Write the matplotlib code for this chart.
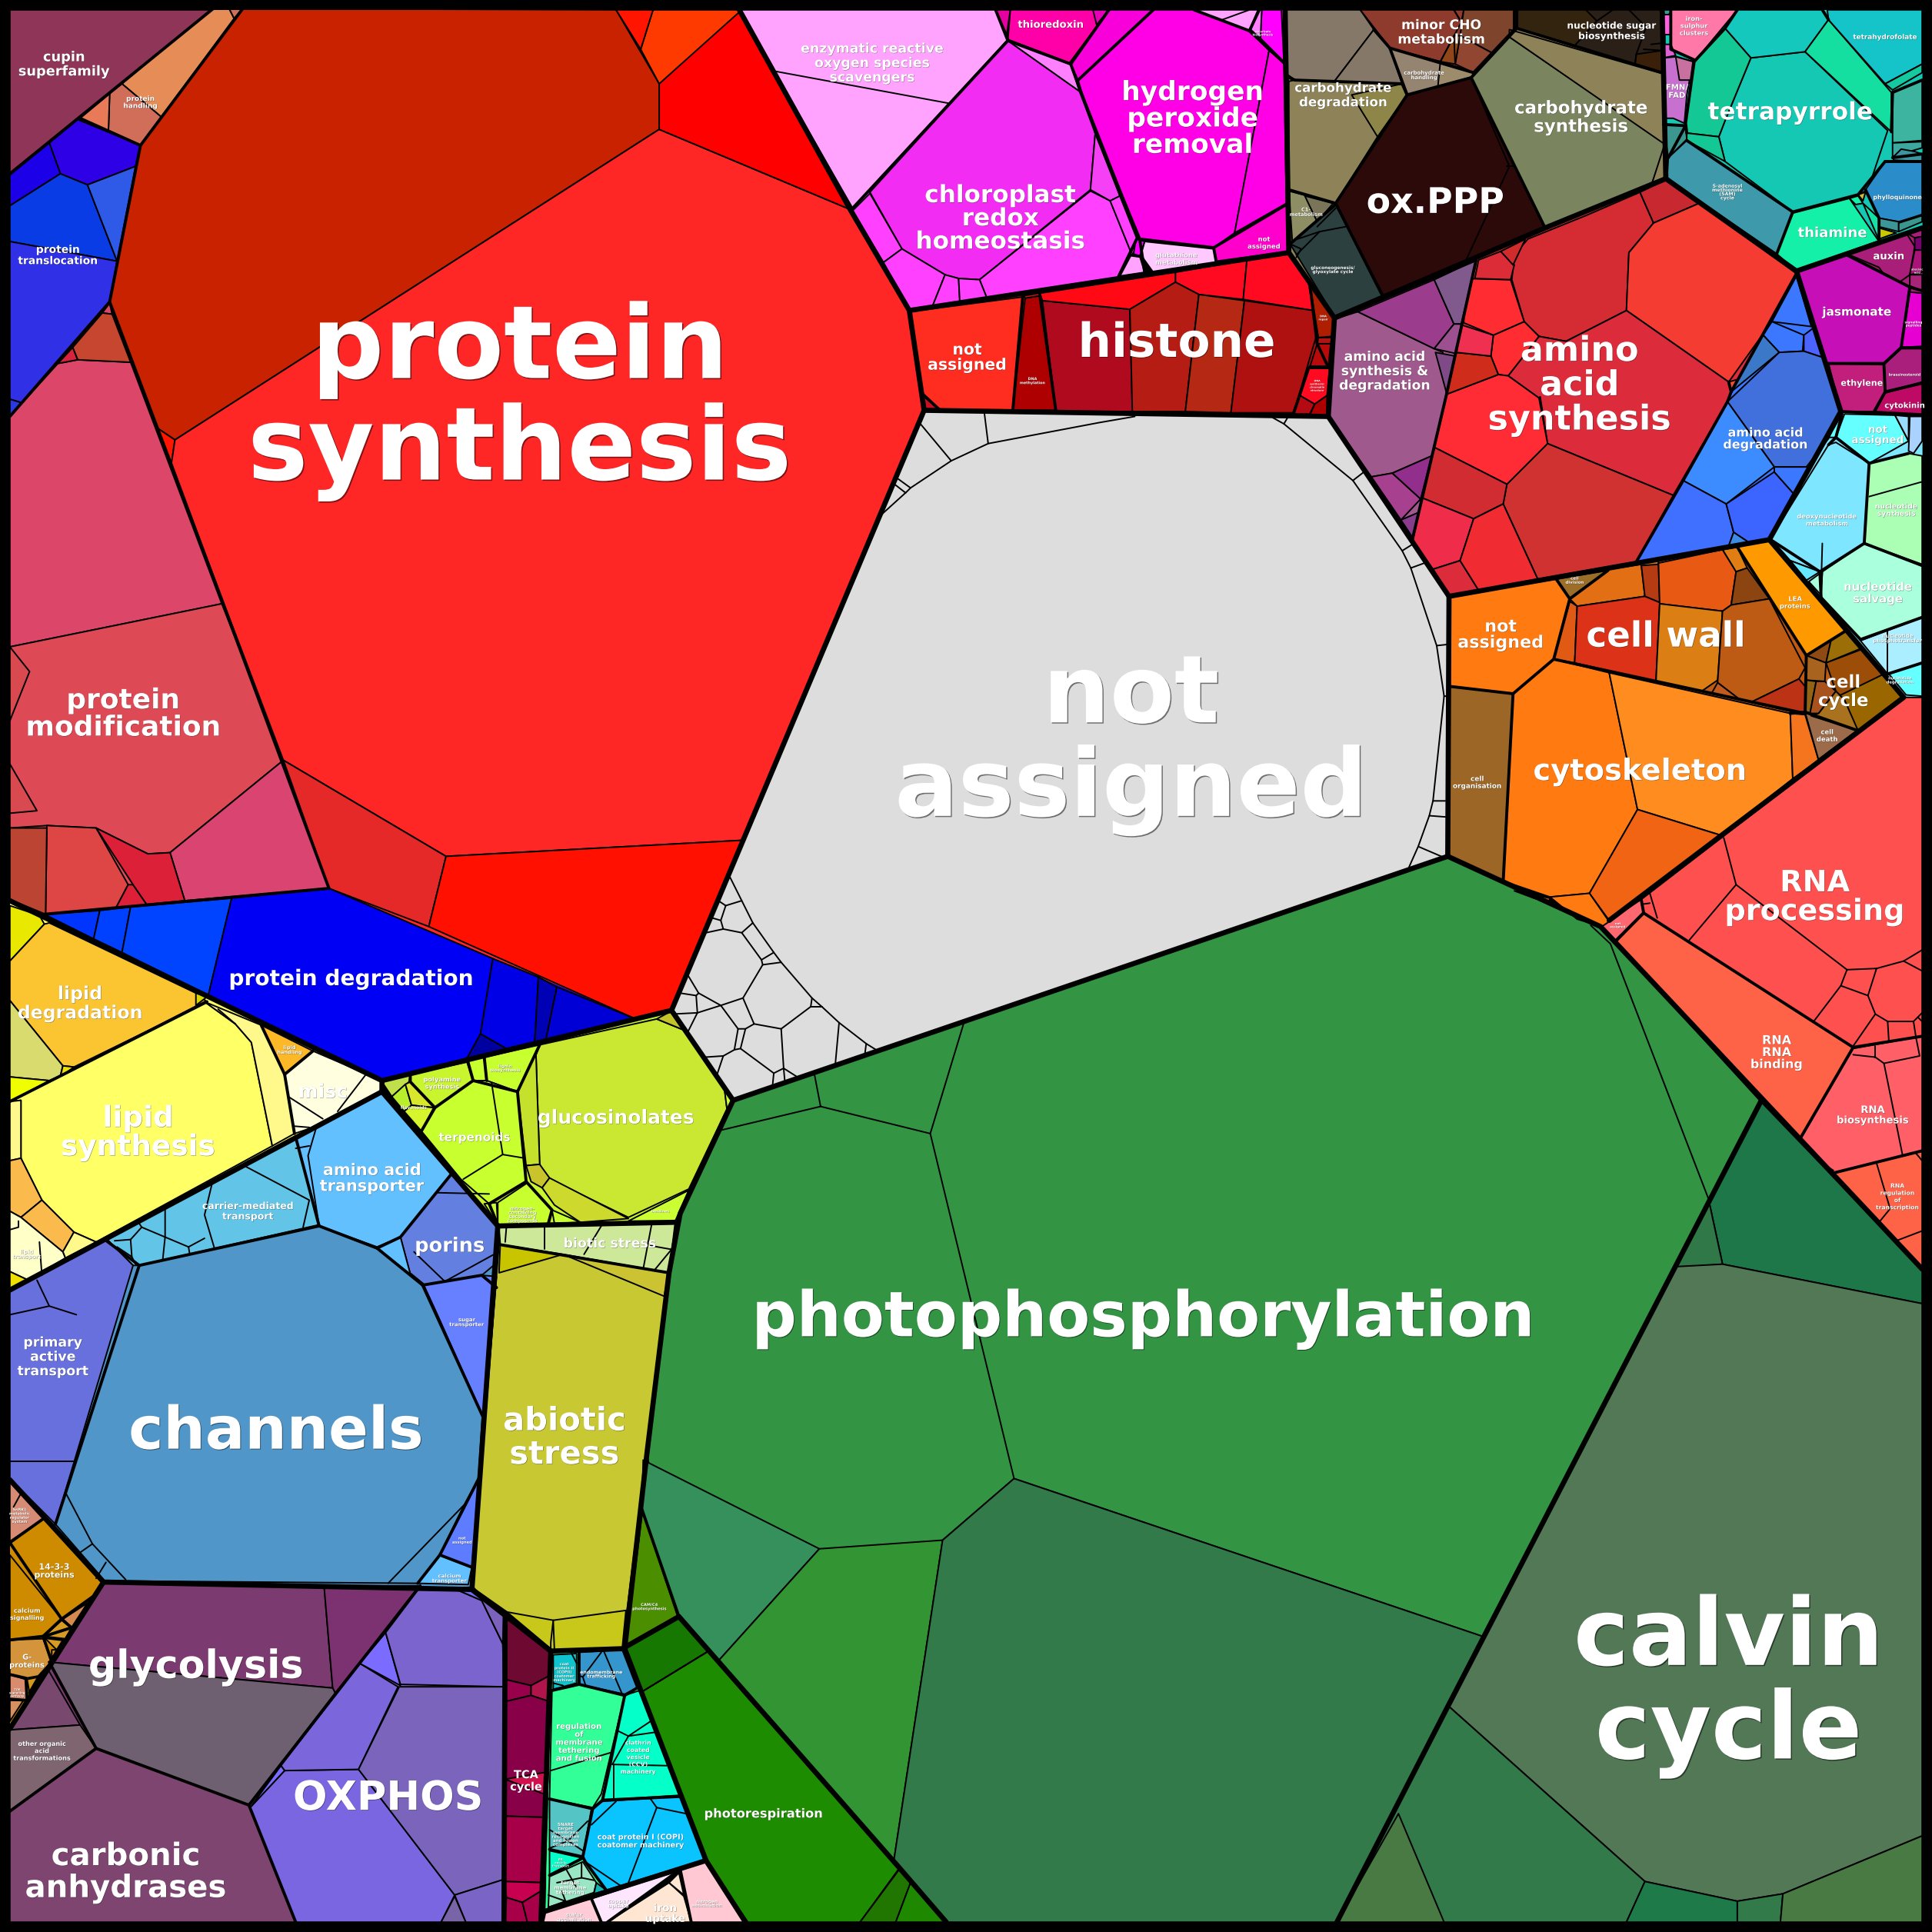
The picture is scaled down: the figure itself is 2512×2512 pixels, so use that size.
import matplotlib
matplotlib.use('Agg')
import matplotlib.pyplot as plt
import matplotlib.patheffects as pe

SIZE = 1568

# big patches under each group, so no gap shows between the cells
base_cells = [
    [(750,333),(1078,338),(1176,484),(1175,695),(595,893),(545,820)],
    [(197,7),(600,8),(690,170),(738,252),(750,333),(545,820),(516,827),(267,721),(89,245),(114,118)],
    [(8,338),(89,245),(267,721),(36,742),(8,731)],
    [(36,742),(267,721),(516,827),(310,877)],
    [(8,731),(310,877),(310,886),(8,1047)],
    [(310,877),(544,821),(595,893),(548,991),(404,995)],
    [(310,886),(404,995),(383,1290),(84,1284),(8,1201),(8,1047)],
    [(8,1201),(84,1284),(8,1403)],
    [(84,1284),(341,1287),(202,1465),(240,1560),(8,1560),(8,1403)],
    [(341,1287),(383,1290),(410,1309),(409,1560),(240,1560),(202,1465)],
    [(447,1340),(505,1338),(573,1510),(443,1551)],
    [(1198,211),(1352,145),(1458,221),(1328,456),(1176,484),(1146,439)],
    [(1458,222),(1494,334),(1436,438),(1328,456)],
    [(1083,259),(1198,211),(1146,439),(1078,338)],
    [(692,170),(818,33),(925,194),(907,226),(738,252)],
    [(875,65),(936,8),(1043,8),(1046,204),(987,212),(923,194)],
    [(738,252),(1046,205),(1083,258),(1078,338),(750,333)],
    [(1494,335),(1560,337),(1560,566),(1545,566),(1436,438)],
    [(1352,8),(1560,8),(1560,185),(1458,220),(1352,145)],
    [(1458,220),(1560,185),(1560,336),(1494,334)],
    [(1176,484),(1436,438),(1545,566),(1306,747),(1175,695)],
    [(1043,8),(1349,8),(1352,145),(1254,185),(1083,258),(1046,205)],
]
base_colors = [
    '#DDDDDD', '#FF2626', '#DD4A55', '#0000F5', '#FFFF66', '#C8F52E', '#5096C8', '#CE8B00', '#7C3B70',
    '#7A64BC', '#33FF99', '#DC2C3C', '#3C78FF', '#A0598C', '#FF40FF', '#FF00E6', '#AF1010', '#7FE6FF',
    '#14C8B4', '#A81E78', '#BD5A14', '#8E8258',
]

# protein
protein_cells = [
    [(8,8),(173,8),(8,141)],
    [(172,7),(186,7),(190,15),(131,95),(99,68)],
    [(99,68),(131,95),(114,118),(88,106),(89,76)],
    [(89,76),(88,106),(65,96)],
    [(186,7),(197,7),(190,15)],
    [(40,116),(63,97),(114,118),(110,135),(71,150),(49,141)],
    [(8,142),(40,116),(49,141),(8,167)],
    [(8,167),(49,141),(71,150),(95,212),(8,196)],
    [(71,150),(110,135),(95,212)],
    [(8,196),(95,212),(89,245),(18,327),(8,324)],
    [(8,324),(18,327),(8,338)],
    [(8,338),(47,295),(63,292),(106,294),(180,490),(8,525)],
    [(83,254),(89,246),(91,255)],
    [(83,254),(91,255),(106,294),(63,292),(59,282)],
    [(59,282),(63,292),(47,295)],
    [(8,525),(180,490),(230,617),(138,692),(120,693),(78,672),(38,670),(8,672)],
    [(8,525),(24,545),(8,585)],
    [(8,620),(30,658),(8,660)],
    [(230,617),(267,721),(150,731),(138,692)],
    [(38,670),(78,672),(104,718),(94,737),(37,742)],
    [(104,718),(108,718),(119,734),(94,737)],
    [(120,693),(138,692),(150,731),(119,734),(108,718),(78,672)],
    [(8,672),(38,672),(37,742),(8,730)],
    [(197,7),(500,8),(535,68),(535,105),(142,357),(127,347),(89,245),(114,118)],
    [(127,347),(142,357),(139,377)],
    [(142,357),(535,105),(690,170),(738,252),(750,333),(602,682),(362,695),(230,617),(139,377)],
    [(535,68),(600,8),(690,170),(535,105)],
    [(530,8),(602,8),(535,68),(520,40)],
    [(500,8),(530,8),(520,40)],
    [(230,617),(362,695),(348,752),(267,721)],
    [(362,695),(602,682),(545,820),(516,827),(348,752)],
    [(36,742),(81,739),(76,762)],
    [(81,739),(106,736),(99,773),(76,762)],
    [(106,736),(188,729),(169,808),(99,773)],
    [(188,729),(267,721),(400,778),(390,839),(379,859),(310,877),(169,808)],
    [(390,839),(411,851),(379,859)],
    [(400,778),(437,793),(434,846),(411,851),(390,839)],
    [(437,793),(452,801),(443,844),(434,846)],
    [(452,801),(516,827),(443,844)],
]
protein_colors = [
    '#8F3558', '#E68C57', '#D06E5A', '#E87A58', '#D06E5A', '#2E00E6', '#1C00E8', '#0A3CE6', '#2F5AE8',
    '#3030E6', '#2A3AE0', '#DC4668', '#DC4668', '#C7462F', '#D8243C', '#DD4A55', '#D84A50', '#D84A50',
    '#DA4470', '#DE4545', '#DC2038', '#DC2038', '#BB4433', '#C82200', '#FF1500', '#FF2626', '#FF0000',
    '#FF3A00', '#FF1500', '#E52828', '#FF1000', '#0035FF', '#0040FF', '#0044FF', '#0000F5', '#0000A0',
    '#0000E6', '#0000B5', '#0000D6',
]

# lipid, misc
lipid_cells = [
    [(8,735),(32,743),(36,750),(8,780)],
    [(36,750),(40,749),(159,806),(168,813),(60,866),(51,865),(8,812),(8,780)],
    [(8,812),(51,865),(49,873),(40,877),(8,874)],
    [(8,874),(40,877),(8,894)],
    [(51,865),(60,866),(49,874)],
    [(159,806),(168,809),(159,816)],
    [(166,813),(191,831),(204,846),(221,930),(78,1008),(60,1000),(34,974),(17,940),(17,893),(8,894)],
    [(166,813),(212,832),(231,872),(239,920),(221,930),(204,846),(191,831)],
    [(8,894),(17,893),(17,940),(8,942)],
    [(8,942),(17,940),(34,974),(17,988),(8,983)],
    [(17,988),(34,974),(60,1000),(51,1016)],
    [(60,1000),(78,1008),(53,1021),(51,1016)],
    [(8,983),(17,988),(51,1016),(53,1021),(23,1039),(8,1032)],
    [(8,1032),(23,1039),(8,1047)],
    [(212,832),(254,853),(231,872)],
    [(254,853),(310,877),(310,886),(257,914),(239,920),(231,872)],
]
lipid_colors = [
    '#E8E800', '#FBC531', '#DADB6F', '#F0FF00', '#EEE000', '#D8D800', '#FFFF66', '#FFF88A', '#FFF88A',
    '#FBBB4C', '#FBBB4C', '#FFF88A', '#FFFFC8', '#F0E000', '#FDB827', '#FFFFE0',
]

# secondary metabolism, stress
secondary_cells = [
    [(438,848),(533,827),(555,836),(588,884),(590,900),(559,965),(510,988),(444,956),(438,945),(435,856)],
    [(533,827),(544,821),(555,836)],
    [(420,886),(438,848),(435,856),(438,945),(427,946)],
    [(427,946),(438,945),(446,956),(440,964),(431,959)],
    [(440,964),(446,956),(510,989),(471,992),(450,978)],
    [(510,991),(559,966),(548,991)],
    [(588,884),(595,893),(590,900)],
    [(310,878),(333,872),(332,878),(318,890)],
    [(333,872),(379,862),(384,877),(353,899),(333,878)],
    [(379,859),(393,858),(395,877),(384,877)],
    [(393,858),(438,848),(420,886),(395,877)],
    [(318,890),(329,880),(334,897),(328,902)],
    [(329,880),(333,878),(353,899),(334,897)],
    [(328,902),(334,897),(352,899),(342,918)],
    [(384,877),(395,877),(420,886),(427,959),(397,977),(374,957),(342,918),(353,899)],
    [(393,977),(403,976),(404,994)],
    [(404,976),(428,960),(448,982),(445,993),(404,994)],
    [(448,982),(471,992),(450,993)],
    [(405,996),(548,992),(543,1033),(406,1010)],
    [(405,1010),(383,1290),(410,1308),(447,1340),(505,1338),(543,1033)],
    [(406,1010),(457,1018),(405,1033)],
    [(457,1018),(543,1033),(539,1052)],
    [(449,1315),(508,1307),(505,1338),(450,1340)],
    [(410,1308),(449,1315),(447,1333),(447,1340)],
]
secondary_colors = [
    '#CAE731', '#C4C32A', '#C5E12B', '#C9C42C', '#CDD92C', '#CCFF33', '#CCFF33', '#BFE04A', '#C8F52E',
    '#C8FF2E', '#C8FF2E', '#B9EE2C', '#D8E62C', '#D7F52C', '#C8FF2E', '#C8FF2E', '#C8FF2E', '#C8FF2E',
    '#CDE898', '#C7C832', '#C8C400', '#CCC332', '#C7C81A', '#C7C81A',
]

# transporters, signalling
transport_cells = [
    [(45,1237),(113,1027),(259,995),(306,1013),(343,1043),(355,1067),(392,1150),(389,1199),(377,1221),(357,1262),(339,1285),(85,1283)],
    [(389,1199),(383,1272),(357,1262),(377,1221)],
    [(357,1262),(383,1272),(380,1286),(339,1285)],
    [(240,923),(309,886),(367,952),(325,1004),(306,1012),(259,995)],
    [(367,952),(404,995),(403,1025),(391,1035),(344,1043),(333,1034),(325,1004)],
    [(306,1013),(325,1004),(333,1034),(344,1043)],
    [(344,1043),(391,1035),(403,1036),(394,1145),(392,1150),(355,1067)],
    [(240,923),(259,994),(113,1027),(108,1027),(87,1006)],
    [(8,1047),(87,1006),(108,1027),(45,1237),(8,1200)],
    [(8,1201),(36,1232),(8,1251)],
    [(36,1232),(84,1284),(75,1296),(50,1314),(8,1252)],
    [(8,1262),(50,1314),(35,1328),(8,1331)],
    [(51,1314),(71,1301),(58,1321)],
    [(50,1315),(58,1321),(53,1330),(36,1328)],
    [(36,1329),(51,1331),(46,1339)],
    [(8,1331),(35,1330),(42,1349),(32,1360),(21,1362),(8,1359)],
    [(42,1339),(46,1339),(42,1346)],
    [(8,1359),(21,1363),(22,1380),(8,1379)],
    [(22,1363),(32,1361),(24,1374)],
    [(8,1380),(19,1380),(8,1397)],
]
transport_colors = [
    '#5096C8', '#5E7CFF', '#62C0FF', '#62C0FF', '#6380E0', '#62C0FF', '#6680FF', '#62C4E6', '#6770DC',
    '#D68B74', '#CE8B00', '#CE8B00', '#D58B50', '#D89B22', '#D89B22', '#D4943C', '#E08B20', '#D98B6E',
    '#D2991E', '#D99060',
]

# glycolysis, oxphos, TCA
energy_cells = [
    [(84,1285),(263,1287),(270,1370),(40,1349)],
    [(263,1287),(341,1287),(272,1374),(270,1370)],
    [(40,1349),(270,1370),(272,1374),(202,1465),(78,1419)],
    [(39,1355),(65,1400),(8,1404)],
    [(8,1404),(65,1400),(78,1419),(8,1470)],
    [(8,1470),(78,1419),(202,1465),(240,1560),(8,1560)],
    [(231,1437),(291,1436),(369,1538),(358,1560),(240,1560),(203,1467)],
    [(228,1433),(292,1350),(323,1369),(291,1436),(231,1437)],
    [(292,1350),(313,1325),(325,1368)],
    [(313,1325),(341,1288),(368,1289),(391,1299),(408,1334),(409,1369),(325,1367)],
    [(368,1289),(384,1288),(393,1298),(391,1299)],
    [(391,1299),(393,1298),(409,1310),(408,1334)],
    [(324,1369),(409,1369),(410,1525),(369,1538),(291,1436)],
    [(369,1538),(410,1525),(410,1560),(378,1560)],
    [(369,1539),(378,1560),(358,1560)],
    [(228,1433),(231,1437),(203,1467)],
    [(409,1310),(446,1341),(446,1360),(431,1368),(410,1363)],
    [(410,1363),(431,1368),(431,1376),(410,1381)],
    [(431,1368),(446,1360),(446,1381),(431,1376)],
    [(410,1381),(431,1376),(446,1381),(444,1475),(410,1474)],
    [(410,1444),(445,1438),(444,1457)],
    [(410,1474),(444,1475),(442,1528),(410,1527)],
    [(410,1527),(442,1528),(442,1533),(424,1544),(411,1540)],
    [(411,1540),(424,1544),(428,1560),(410,1560)],
    [(424,1544),(442,1533),(439,1560),(428,1560)],
]
energy_colors = [
    '#7C3B70', '#7C3270', '#6E6070', '#78486E', '#7E6570', '#7D4570', '#7B66E2', '#7B66DC', '#7B6BFF',
    '#7C64CF', '#6F6BF0', '#7A62BD', '#7A64BC', '#7A64C5', '#7A64A8', '#7B6BFF', '#6E0A32', '#98004C',
    '#B0144A', '#880048', '#D0104F', '#A80048', '#C80050', '#A80048', '#A80048',
]

# vesicle trafficking, nutrient uptake
vesicle_cells = [
    [(470,1341),(505,1339),(517,1370),(507,1375),(470,1367)],
    [(449,1343),(468,1342),(468,1366),(449,1371)],
    [(448,1372),(470,1367),(507,1376),(488,1456),(481,1467),(446,1460)],
    [(507,1376),(519,1372),(552,1457),(489,1461)],
    [(481,1468),(489,1462),(552,1458),(573,1509),(492,1534),(475,1511),(473,1507)],
    [(446,1460),(480,1468),(473,1507),(446,1501)],
    [(446,1502),(473,1508),(446,1522)],
    [(446,1523),(473,1511),(484,1528),(482,1536),(445,1548)],
    [(484,1528),(492,1534),(482,1537)],
    [(443,1551),(480,1541),(488,1560),(441,1560)],
    [(480,1541),(551,1518),(493,1560),(488,1560)],
    [(493,1560),(543,1528),(555,1539),(561,1560)],
    [(543,1528),(551,1520),(555,1538)],
    [(552,1517),(573,1511),(605,1560),(561,1560)],
]
vesicle_colors = [
    '#3496CC', '#0FC4CC', '#33FF99', '#05FFC8', '#0AC4FF', '#55C4C4', '#05FFC8', '#99E6C4', '#10B4B4',
    '#FFCBD6', '#FFE6FF', '#FFE6D2', '#FFE6D2', '#FFC8D2',
]

# photosynthesis
photo_cells = [
    [(595,893),(1175,695),(1299,752),(1429,894),(1203,1328),(823,1200),(765,1250),(725,1513),(575,1340),(551,1312),(525,1180),(543,1033),(552,985)],
    [(522,1185),(665,1257),(583,1348),(575,1340),(551,1312),(521,1225)],
    [(665,1257),(765,1250),(725,1513),(583,1348)],
    [(823,1200),(1203,1328),(1085,1560),(768,1560),(725,1513),(765,1250)],
    [(521,1373),(575,1340),(730,1516),(698,1560),(607,1560),(573,1510)],
    [(507,1337),(551,1313),(575,1340),(521,1373)],
    [(521,1225),(550,1312),(507,1336)],
    [(730,1517),(739,1528),(727,1560),(698,1560)],
    [(739,1528),(768,1560),(727,1560)],
    [(1429,894),(1560,1030),(1560,1058),(1398,1026),(1387,975)],
    [(1387,975),(1398,1026),(1360,1029)],
    [(1360,1028),(1398,1026),(1560,1058),(1560,1490),(1447,1537),(1410,1543),(1335,1527),(1176,1385)],
    [(1176,1385),(1335,1527),(1320,1560),(1085,1560)],
    [(1135,1472),(1172,1560),(1085,1560)],
    [(1335,1527),(1410,1543),(1410,1560),(1320,1560)],
    [(1410,1543),(1447,1537),(1445,1560),(1410,1560)],
    [(1447,1537),(1560,1490),(1560,1560),(1445,1560)],
]
photo_colors = [
    '#339544', '#35905C', '#339433', '#337A4A', '#1E8C00', '#167800', '#4B8F00', '#207600', '#1E8800',
    '#1D7748', '#317848', '#527856', '#337A4A', '#4A7A44', '#1F7A4A', '#337A4A', '#4A7A44',
]

# RNA
rna_cells = [
    [(1299,752),(1332,730),(1334,740),(1310,764)],
    [(1334,741),(1504,850),(1461,924),(1311,765)],
    [(1332,730),(1545,566),(1560,566),(1560,841),(1504,850),(1334,741)],
    [(1504,851),(1560,841),(1560,934),(1488,952),(1461,925)],
    [(1488,952),(1560,934),(1560,1030)],
]
rna_colors = ['#FF6870', '#FF6347', '#FF5050', '#FF6068', '#FF6347']

# cell wall, cytoskeleton, cell cycle
cell_cells = [
    [(1176,484),(1263,470),(1274,486),(1261,535),(1228,563),(1176,557)],
    [(1263,470),(1305,463),(1274,486)],
    [(1176,557),(1228,563),(1220,715),(1174,695)],
    [(1228,563),(1261,535),(1306,546),(1329,657),(1290,725),(1258,728),(1220,715)],
    [(1306,546),(1453,579),(1455,632),(1397,678),(1329,657)],
    [(1329,657),(1397,678),(1306,747),(1290,725)],
    [(1258,728),(1290,725),(1306,748),(1300,752),(1280,746)],
    [(1229,723),(1258,729),(1257,732),(1245,729)],
    [(1453,579),(1465,580),(1476,617),(1455,632)],
    [(1465,578),(1508,593),(1476,617)],
    [(1306,462),(1332,458),(1335,484),(1280,492),(1274,486)],
    [(1332,458),(1346,457),(1347,489),(1335,484)],
    [(1330,456),(1346,455),(1346,458),(1332,459)],
    [(1346,457),(1398,446),(1409,464),(1405,491),(1398,496),(1347,490)],
    [(1398,446),(1410,444),(1418,461),(1409,464)],
    [(1409,464),(1418,461),(1436,486),(1405,491)],
    [(1274,488),(1280,492),(1278,538),(1261,535)],
    [(1280,492),(1335,484),(1347,489),(1344,553),(1278,538)],
    [(1347,490),(1398,496),(1394,552),(1381,561),(1344,553)],
    [(1398,496),(1405,491),(1436,486),(1465,542),(1460,551),(1421,570),(1411,567),(1394,554)],
    [(1394,554),(1411,567),(1389,563)],
    [(1421,570),(1460,551),(1465,557),(1465,580)],
    [(1410,444),(1436,438),(1498,512),(1466,532)],
    [(1466,532),(1486,520),(1482,538)],
    [(1498,512),(1511,526),(1482,538),(1486,520)],
    [(1482,538),(1511,527),(1529,547),(1497,568),(1490,561)],
    [(1529,547),(1545,566),(1508,593),(1492,565)],
    [(1466,532),(1482,538),(1481,553),(1466,552)],
    [(1466,552),(1474,553),(1469,579),(1465,577)],
    [(1474,553),(1481,553),(1490,561),(1476,579),(1469,579)],
    [(1476,579),(1490,561),(1497,568),(1508,593),(1470,581)],
]
cell_colors = [
    '#FF7A10', '#9C6E28', '#9C6726', '#FF7A10', '#FF8C1E', '#F06414', '#FF7A10', '#F06414', '#F5741E',
    '#9C6B4A', '#E36F14', '#B53C12', '#C87A10', '#E85A14', '#E07E14', '#8C4410', '#E05A14', '#DC3218',
    '#DB7E14', '#BD5A14', '#C05A1E', '#BC3214', '#FF9900', '#8F4A14', '#9C6E08', '#9C4E08', '#996600',
    '#A8641E', '#8F6414', '#A8521E', '#A8721E',
]

# nucleotide
nucleotide_cells = [
    [(1497,336),(1538,337),(1549,358),(1517,376),(1490,355)],
    [(1484,361),(1490,359),(1517,376),(1513,441),(1477,464),(1453,455),(1437,437)],
    [(1517,376),(1549,368),(1560,370),(1560,458),(1513,441)],
    [(1513,441),(1560,459),(1560,501),(1510,519),(1478,485),(1479,464)],
    [(1510,520),(1560,501),(1560,538),(1532,547)],
    [(1533,547),(1560,538),(1560,565),(1547,564)],
    [(1538,337),(1549,338),(1549,358)],
    [(1550,338),(1560,338),(1560,358),(1553,368),(1549,366)],
    [(1495,336),(1490,355),(1484,355)],
    [(1453,455),(1477,464),(1466,471)],
    [(1468,472),(1479,464),(1478,483)],
]
nucleotide_colors = [
    '#66FFFF', '#7FE6FF', '#AAFFB4', '#AAFFDC', '#AAEEFF', '#66FFFF', '#99DDFF', '#AAD2FF', '#66FFFF',
    '#66E6FF', '#AAFFDC',
]

# amino acids
amino_cells = [
    [(1458,224),(1470,265),(1438,261)],
    [(1438,261),(1464,272),(1463,285),(1444,286),(1431,272)],
    [(1464,272),(1472,266),(1479,290),(1464,285)],
    [(1444,286),(1431,272),(1405,318)],
    [(1402,326),(1444,286),(1464,285),(1479,290),(1494,334),(1484,356),(1466,379),(1440,379)],
    [(1402,326),(1440,379),(1401,409),(1366,390)],
    [(1366,390),(1401,409),(1407,432),(1403,443),(1328,456)],
    [(1401,409),(1440,383),(1456,401),(1437,438),(1419,440),(1407,432)],
    [(1440,379),(1469,379),(1456,401),(1440,383)],
    [(1407,432),(1419,440),(1403,443)],
    [(1287,175),(1331,156),(1342,181),(1322,205),(1320,252),(1271,277),(1249,273),(1237,261),(1227,227),(1229,207),(1240,194)],
    [(1331,156),(1352,146),(1379,165),(1342,181)],
    [(1379,165),(1458,222),(1438,261),(1403,310),(1320,252),(1322,205),(1342,181)],
    [(1320,252),(1403,310),(1405,318),(1402,326),(1358,402),(1256,360),(1250,322),(1249,323),(1224,305),(1249,273),(1271,277)],
    [(1256,360),(1358,402),(1328,456),(1248,470),(1220,409),(1223,393)],
    [(1249,273),(1224,305),(1216,304),(1210,289),(1212,272),(1237,261)],
    [(1216,304),(1224,305),(1249,323),(1256,360),(1223,393),(1164,363),(1174,320)],
    [(1174,320),(1216,304),(1210,289),(1182,286)],
    [(1184,263),(1212,272),(1210,289),(1182,286)],
    [(1189,226),(1226,227),(1237,261),(1212,272),(1188,262)],
    [(1200,211),(1218,204),(1229,215),(1226,227),(1197,226)],
    [(1218,204),(1238,194),(1228,215)],
    [(1164,363),(1223,393),(1220,409),(1196,421),(1154,404)],
    [(1154,404),(1196,421),(1185,455),(1163,462),(1146,439)],
    [(1163,462),(1185,455),(1200,479),(1176,483)],
    [(1196,421),(1220,409),(1248,470),(1200,479),(1185,455)],
    [(1403,310),(1410,308),(1405,318)],
    [(1083,259),(1102,253),(1164,283),(1171,286),(1174,319),(1162,370),(1130,384),(1113,387),(1079,338)],
    [(1102,253),(1164,227),(1180,263),(1164,283)],
    [(1164,227),(1198,211),(1186,263),(1180,263)],
    [(1180,263),(1186,263),(1182,287),(1164,283)],
    [(1165,286),(1181,289),(1174,319)],
    [(1113,387),(1130,384),(1153,405),(1137,422)],
    [(1130,384),(1162,370),(1153,405)],
    [(1137,422),(1151,416),(1147,437)],
]
amino_colors = [
    '#3C78FF', '#3C78FF', '#4B64FF', '#3C78C8', '#4170DC', '#3C8CFF', '#4070FF', '#3C64FF', '#3C78FF',
    '#3C8CE6', '#D42C32', '#C82830', '#F53C32', '#DC2C3C', '#D03232', '#FF2C32', '#FF2C35', '#D02C1C',
    '#F03050', '#FF2C32', '#DC2C38', '#D02C2C', '#D02C32', '#F02C4B', '#DC2C3C', '#F02C32', '#F05032',
    '#A0598C', '#9C3C8C', '#805A8C', '#9C5090', '#7E4A88', '#A84090', '#922E8C', '#873C8C',
]

# carbohydrates
cho_cells = [
    [(1044,8),(1104,8),(1115,24),(1083,66),(1051,65),(1044,60)],
    [(1115,24),(1128,39),(1138,68),(1083,66)],
    [(1044,60),(1051,65),(1046,67)],
    [(1046,66),(1051,65),(1138,68),(1142,77),(1118,111),(1084,165),(1046,154)],
    [(1097,77),(1138,68),(1142,77),(1118,111)],
    [(1104,8),(1229,8),(1229,24),(1196,59),(1169,50),(1128,39)],
    [(1180,8),(1188,8),(1186,18)],
    [(1188,8),(1229,8),(1229,24),(1211,43),(1185,29)],
    [(1185,29),(1211,43),(1196,59),(1181,52)],
    [(1180,29),(1185,29),(1181,52),(1169,50)],
    [(1128,39),(1169,50),(1196,59),(1194,63),(1142,77),(1138,68)],
    [(1169,50),(1196,59),(1194,63),(1167,70)],
    [(1225,30),(1352,117),(1341,148),(1254,185),(1194,63)],
    [(1225,24),(1350,60),(1351,117),(1225,30)],
    [(1351,117),(1352,144),(1341,148)],
    [(1231,8),(1349,8),(1349,59),(1231,23)],
    [(1328,44),(1349,41),(1349,59),(1327,52)],
    [(1231,8),(1287,8),(1296,17),(1278,37),(1231,23)],
    [(1142,77),(1194,63),(1254,185),(1122,240),(1084,165)],
    [(1046,155),(1084,165),(1049,198)],
    [(1059,159),(1082,165),(1069,180)],
    [(1084,166),(1123,240),(1083,257),(1047,198)],
]
cho_colors = [
    '#857868', '#857868', '#8E8255', '#8E8258', '#8E8648', '#8E3A2C', '#8E3A2C', '#7E442C', '#904630',
    '#904618', '#948470', '#9C8C6C', '#7A845E', '#8E8258', '#8E8258', '#2A2018', '#3A2008', '#33240F',
    '#2C0A0A', '#8E8E64', '#7A7458', '#2C4040',
]

# redox
redox_cells = [
    [(600,8),(808,8),(818,32),(692,169)],
    [(818,33),(876,74),(889,107),(885,154),(795,227),(778,226),(767,223),(732,202),(706,156)],
    [(808,8),(820,8),(817,28)],
    [(820,8),(900,8),(868,51),(818,32)],
    [(887,8),(900,8),(890,20)],
    [(900,8),(936,8),(875,65),(869,52)],
    [(818,33),(869,52),(876,74)],
    [(875,65),(936,8),(969,8),(1014,25),(1030,41),(1002,189),(985,201),(925,194),(878,75)],
    [(1030,41),(1042,51),(1044,165),(1002,189)],
    [(985,201),(1044,166),(1046,204),(987,212)],
    [(969,8),(1014,8),(1021,8),(1014,25)],
    [(1024,8),(1040,8),(1042,50),(1023,31)],
    [(1015,24),(1022,8),(1024,8),(1023,31)],
    [(795,227),(885,155),(901,163),(918,205),(907,226),(801,242)],
    [(889,107),(909,159),(901,163),(885,154)],
    [(901,163),(909,159),(923,193),(918,205)],
    [(706,157),(732,202),(717,213),(692,171)],
    [(717,213),(732,202),(767,223),(757,248),(737,252)],
    [(767,223),(778,226),(779,245),(757,248)],
    [(778,226),(795,227),(801,242),(779,245)],
    [(929,196),(985,202),(987,213),(936,221),(926,207)],
    [(922,194),(929,196),(925,208),(920,206)],
    [(918,207),(925,208),(929,221),(909,224)],
]
redox_colors = [
    '#FFA3FF', '#F32CF3', '#E600A0', '#FF00A8', '#E600B8', '#F700D9', '#FF80FF', '#FF00E6', '#FF00E6',
    '#FF00CC', '#FFA3FF', '#FF00FF', '#FF80FF', '#FF40FF', '#F540F5', '#FF40FF', '#FF40FF', '#FF40FF',
    '#FF40FF', '#FF40FF', '#FFC8FF', '#FF00FF', '#FFA3FF',
]

# histone, DNA
histone_cells = [
    [(738,253),(830,241),(822,333),(763,333),(749,320)],
    [(749,321),(763,333),(749,333)],
    [(832,242),(844,240),(857,333),(822,333)],
    [(831,240),(843,238),(844,240),(832,242)],
    [(846,244),(917,251),(919,334),(857,334)],
    [(844,238),(954,221),(954,229),(917,251),(846,244)],
    [(954,221),(1012,211),(1009,243),(973,239),(954,229)],
    [(1012,211),(1046,206),(1062,230),(1066,252),(1009,243)],
    [(917,251),(954,229),(973,239),(967,290),(962,334),(919,334)],
    [(973,239),(1010,244),(999,335),(962,334)],
    [(1010,244),(1066,252),(1070,267),(1050,335),(999,335)],
    [(1063,230),(1083,259),(1081,273),(1070,274)],
    [(1070,274),(1081,274),(1080,279),(1069,279)],
    [(1069,279),(1080,279),(1078,298),(1063,298)],
    [(1062,299),(1079,299),(1077,321),(1067,328),(1055,321)],
    [(1055,321),(1067,328),(1063,336),(1049,336)],
    [(1067,328),(1077,321),(1077,337),(1063,337)],
]
histone_colors = [
    '#FF2C20', '#C81020', '#AE0000', '#C81414', '#AF0A1E', '#FF0A14', '#FF0A20', '#FF0A20', '#B41C14',
    '#B42814', '#AF1010', '#AF1E00', '#AF1414', '#B80A0A', '#FF0A20', '#B40A14', '#AE0000',
]

# vitamins, cofactors
cofactor_cells = [
    [(1349,8),(1358,8),(1352,14)],
    [(1356,8),(1410,8),(1376,49),(1356,40)],
    [(1350,12),(1356,12),(1356,28),(1350,28)],
    [(1350,36),(1356,36),(1360,45),(1350,47)],
    [(1350,47),(1361,46),(1374,50),(1369,77),(1367,100),(1358,96),(1352,96)],
    [(1360,46),(1374,50),(1372,65),(1363,65)],
    [(1350,101),(1368,102),(1369,113),(1354,128)],
    [(1369,114),(1455,172),(1442,206),(1353,145),(1354,128)],
    [(1421,47),(1465,42),(1532,106),(1516,154),(1508,158),(1455,172),(1400,131),(1395,111),(1400,98)],
    [(1410,8),(1479,8),(1484,16),(1465,42),(1421,47),(1400,23)],
    [(1400,23),(1421,47),(1400,98),(1395,111),(1369,108),(1368,100),(1375,50)],
    [(1369,108),(1395,111),(1400,131),(1369,114)],
    [(1484,16),(1535,75),(1535,107),(1465,42)],
    [(1483,8),(1560,8),(1560,52),(1530,68),(1484,16)],
    [(1530,68),(1560,52),(1560,59),(1536,73)],
    [(1536,75),(1560,65),(1560,114),(1536,116)],
    [(1536,116),(1560,115),(1560,120),(1536,127)],
    [(1536,128),(1543,121),(1554,123),(1560,125),(1560,131),(1537,130)],
    [(1530,131),(1560,131),(1560,174),(1541,180),(1525,177),(1514,154)],
    [(1525,177),(1541,180),(1541,188),(1525,184)],
    [(1541,181),(1560,175),(1560,180),(1541,188)],
    [(1455,173),(1501,161),(1525,196),(1458,220),(1442,206)],
    [(1501,161),(1508,159),(1512,165),(1506,166)],
    [(1508,158),(1514,156),(1512,163)],
    [(1512,165),(1525,177),(1525,195)],
    [(1525,185),(1539,189),(1525,194)],
]
cofactor_colors = [
    '#3C9696', '#FF78A8', '#FF60E0', '#E060D8', '#C870D0', '#C870A0', '#3C9690', '#3E9AAA', '#14C8B4',
    '#14C8BE', '#14C896', '#14C896', '#14DEA0', '#14C4C8', '#14C8A0', '#3CB4A0', '#3CA8A0', '#3C96A0',
    '#2A8CC8', '#3C9696', '#3C9690', '#14F0A8', '#14F0A8', '#D0C030', '#14E0A8', '#C8C800',
]

# hormones
hormone_cells = [
    [(1499,206),(1547,189),(1554,200),(1550,223),(1536,233),(1525,217)],
    [(1547,189),(1560,185),(1560,192),(1554,193)],
    [(1554,193),(1560,192),(1560,203),(1554,203)],
    [(1554,203),(1560,203),(1560,221),(1550,223)],
    [(1550,223),(1560,223),(1560,236),(1550,232)],
    [(1459,221),(1499,207),(1550,233),(1543,282),(1529,295),(1483,295)],
    [(1550,237),(1560,238),(1560,281),(1543,282)],
    [(1543,283),(1560,283),(1560,310),(1530,318),(1529,296)],
    [(1484,295),(1529,296),(1530,318),(1521,334),(1494,334)],
    [(1530,319),(1560,311),(1560,336),(1522,334)],
]
hormone_colors = [
    '#A81E78', '#A81E78', '#780070', '#A81478', '#A82478', '#C70FB8', '#E600D2', '#AA1E7C', '#C21E7C',
    '#BE0A64',
]

# thin cell walls where neighbouring cells share a colour
thin_lines = [
    # not assigned, lower left
    [(592,711),(602,731),(611,749),(628,773),(634,781),(659,810),(667,817),(681,830),(703,847),(711,852)],
    [(583,731),(589,735),(602,731)], [(589,735),(585,747),(587,754),(602,757),(611,749)],
    [(578,745),(585,747)], [(573,757),(587,754)],
    [(602,757),(618,779),(619,783),(603,810),(585,816),(567,806),(558,791)],
    [(618,779),(628,773)], [(619,783),(634,781)], [(567,806),(565,808),(552,806)],
    [(565,808),(566,822),(546,823)], [(566,822),(585,816)], [(566,822),(558,838)],
    [(585,816),(599,835),(605,835),(612,831),(603,810)],
    [(599,835),(596,852),(601,851),(605,835)],
    [(612,831),(634,835),(658,817),(659,810)], [(658,817),(667,817)],
    [(634,835),(636,867),(628,871),(601,851)], [(596,852),(587,857),(572,858)], [(587,857),(582,872)],
    [(628,871),(627,881)], [(636,867),(637,878)], [(636,867),(647,874)],
    [(681,830),(678,863)], [(703,847),(702,855)],
    # not assigned, top and right
    [(715,418),(736,399),(739,396),(772,374),(802,360),(892,343),(921,338)],
    [(747,344),(772,374)], [(799,336),(802,360)], [(728,388),(739,396)], [(726,393),(735,400)],
    [(1033,339),(1042,344),(1045,339)],
    [(1042,344),(1098,390),(1107,383)], [(1098,390),(1138,447),(1146,442)],
    [(1138,447),(1145,461),(1156,457)], [(1145,461),(1166,524),(1175,523)],
    [(1166,524),(1172,565),(1175,565)], [(1172,565),(1163,650),(1173,650)],
    [(1163,650),(1160,662),(1173,663)], [(1160,662),(1151,687),(1172,696)], [(1151,687),(1143,705)],
    # photosynthesis
    [(661,872),(666,898),(755,920),(782,831)], [(582,918),(666,898)], [(755,920),(823,1200)],
    [(1291,751),(1307,766),(1387,974)], [(521,1373),(575,1340)],
    # RNA
    [(1339,725),(1345,745)], [(1332,734),(1339,733)], [(1399,680),(1409,718),(1371,763)],
    [(1409,718),(1499,787),(1494,800),(1472,829)], [(1494,800),(1516,808),(1523,786),(1499,787)],
    [(1523,786),(1545,780),(1560,771)], [(1545,780),(1560,788)],
    [(1516,808),(1522,823),(1532,829),(1553,829),(1560,822)], [(1522,823),(1504,849)],
    [(1532,829),(1533,845)], [(1553,829),(1555,842)], [(1557,826),(1560,829)],
    [(1504,856),(1522,858),(1529,863),(1558,857),(1555,842)], [(1522,849),(1522,858)],
    [(1529,863),(1544,937)], [(1482,946),(1488,950)],
    [(1523,944),(1534,981),(1525,992)], [(1539,1007),(1560,999)], [(1555,936),(1560,942)],
    # transporters
    [(53,1211),(75,1253),(102,1282)], [(65,1260),(75,1253)], [(78,1281),(86,1268)],
    [(315,1285),(377,1221)], [(355,968),(397,969)], [(401,1018),(361,1040),(336,1016)],
    [(198,946),(251,974),(246,996)], [(198,946),(172,961),(166,986),(174,1013)],
    [(172,961),(153,971),(134,981),(134,1004),(132,1023)], [(134,1004),(153,1012),(166,1005)],
    [(153,1012),(154,1018)], [(134,1004),(115,996),(106,1006),(107,1020),(110,1026)], [(115,996),(113,993)],
    [(106,1006),(93,1007)], [(95,1012),(107,1020)], [(240,932),(251,930)], [(257,914),(250,938),(259,995)],
    [(30,1039),(40,1060),(62,1067)], [(40,1060),(8,1067)], [(8,1186),(61,1186)],
    [(17,1212),(11,1223)],
    # lipid, misc
    [(297,872),(274,902)], [(234,890),(262,908)], [(239,914),(251,915)], [(177,819),(191,831)],
    [(15,991),(15,996),(8,998)], [(32,1008),(34,1035)],
    # secondary metabolism
    [(399,879),(408,937),(426,940)], [(408,937),(376,957)],
    [(411,996),(410,1008)], [(442,996),(442,1014)], [(488,995),(474,1018)], [(529,993),(522,1030)],
    [(528,1011),(545,1014)], [(545,1014),(531,1031)],
    # vesicles
    [(488,1341),(473,1361),(475,1367)], [(490,1340),(505,1375)], [(470,1360),(473,1361)],
    [(464,1342),(468,1350)], [(449,1366),(457,1368)], [(447,1437),(497,1422)],
    [(502,1405),(510,1409),(528,1397)], [(510,1409),(497,1432)], [(510,1409),(531,1406)],
    [(497,1432),(541,1433)], [(498,1432),(498,1460)],
    [(500,1462),(480,1481)], [(528,1460),(533,1467),(557,1472)], [(533,1467),(510,1528)], [(475,1511),(503,1530)],
    [(446,1485),(461,1494),(473,1502)], [(461,1494),(446,1500)], [(477,1478),(461,1494)],
    [(460,1518),(468,1532)], [(472,1512),(472,1524),(482,1526)], [(472,1524),(452,1528)],
    [(445,1538),(459,1543),(456,1535)], [(445,1548),(459,1543)],
    # carbohydrates, nucleotide sugar
    [(1180,8),(1186,18),(1169,50)], [(1180,29),(1181,52)],
    [(1278,37),(1231,23)], [(1309,8),(1296,17)], [(1322,8),(1336,22),(1328,44),(1327,52)],
    [(1340,36),(1349,35)], [(1334,40),(1349,41)],
    [(1194,63),(1225,135),(1189,213)], [(1223,135),(1229,135)],
    [(1071,188),(1092,184)], [(1053,194),(1071,188)], [(1052,207),(1071,188)], [(1047,198),(1056,202),(1052,209)],
    [(1084,169),(1069,184)],
    # redox
    [(630,58),(771,84)], [(992,16),(1014,8)],
    # amino, nucleotide
    [(1517,403),(1560,391)], [(1532,512),(1532,546)], [(1479,441),(1478,475)],
]

# boundaries of the second hierarchy level
medium_lines = [
    [(173,7),(8,141)], [(197,7),(114,118),(89,245),(8,338)], [(65,96),(114,118)],
    [(89,245),(139,377),(267,721),(36,742)],
    [(168,813),(8,894)], [(212,832),(231,872),(239,920)], [(254,853),(231,872)],
    [(259,995),(306,1013),(343,1043),(391,1035),(403,1045)], [(259,995),(113,1027),(85,1006)], [(113,1027),(45,1237)],
    [(240,923),(259,995)], [(367,952),(325,1004),(306,1013)], [(333,1034),(344,1043)],
    [(339,1285),(357,1262),(383,1272)], [(357,1262),(389,1199)], [(343,1043),(392,1150),(389,1199)],
    [(8,1252),(36,1232)], [(8,1252),(50,1314),(75,1296)], [(8,1331),(35,1328),(50,1314)], [(35,1328),(42,1349),(32,1360)],
    [(21,1362),(8,1359)], [(32,1360),(24,1374)], [(21,1362),(22,1380),(8,1379)], [(36,1329),(53,1331)],
    [(58,1321),(50,1314)], [(36,1328),(58,1321)],
    [(341,1287),(202,1465),(240,1560)], [(78,1419),(202,1465)], [(78,1419),(40,1349)], [(78,1419),(8,1470)],
    [(470,1341),(470,1367),(507,1376),(517,1370)], [(448,1372),(470,1367)], [(507,1376),(489,1461),(552,1458)],
    [(446,1460),(481,1468),(473,1507),(446,1501)], [(473,1508),(446,1522)], [(473,1507),(475,1511),(492,1534)],
    [(489,1461),(481,1468)], [(480,1541),(488,1560)], [(551,1518),(493,1560)], [(552,1517),(561,1560)],
    [(420,886),(384,877),(353,899),(342,918)], [(420,886),(438,848)], [(420,886),(427,959),(397,977)],
    [(384,877),(379,859)], [(395,877),(393,858)], [(333,872),(333,878),(353,899)], [(397,977),(404,994)],
    [(427,959),(448,982),(445,993)], [(405,1010),(543,1033)],
    [(1176,557),(1228,563),(1261,535),(1274,486),(1263,470)], [(1228,563),(1220,715)],
    [(1261,535),(1465,579),(1466,532),(1498,512)], [(1305,463),(1274,486)], [(1465,578),(1508,593),(1476,617)],
    [(1410,444),(1466,532)], [(1453,579),(1465,578)],
    [(1437,438),(1477,464),(1513,441),(1560,459)], [(1513,441),(1517,376),(1549,368)], [(1490,355),(1517,376)],
    [(1510,519),(1560,501)], [(1478,485),(1510,519)], [(1532,547),(1560,538)], [(1477,464),(1478,485)],
    [(1494,334),(1560,337)], [(1484,361),(1490,355),(1495,336)],
    [(1499,207),(1550,233),(1543,282),(1529,295),(1483,295)], [(1529,296),(1530,318),(1521,334)],
    [(1530,318),(1560,311)], [(1543,282),(1560,282)], [(1550,233),(1560,236)],
    [(1332,730),(1334,741),(1310,765)], [(1334,741),(1504,850),(1461,924)], [(1504,850),(1560,841)], [(1488,952),(1560,934)],
    [(1402,326),(1405,318),(1403,310)], [(1328,456),(1366,390),(1402,326)], [(1458,222),(1405,318)],
    [(1083,259),(1198,211)], [(1198,211),(1174,320),(1146,439)],
    [(1044,62),(1051,65),(1138,68),(1142,77),(1084,165)], [(1115,24),(1128,39),(1196,59),(1229,24),(1229,8)],
    [(1128,39),(1142,77),(1194,63)], [(1194,63),(1254,185)], [(1084,165),(1122,240)],
    [(1231,8),(1231,23),(1349,59)], [(1194,63),(1231,23)], [(1084,165),(1046,154)], [(1084,166),(1047,198)],
    [(1369,114),(1455,172),(1442,206)], [(1455,172),(1508,158),(1530,131)], [(1369,108),(1368,100),(1375,50),(1400,23),(1410,8)],
    [(1376,49),(1356,40),(1356,8)], [(1368,102),(1354,128)], [(1350,101),(1368,102)],
    [(1536,75),(1535,107)], [(1484,16),(1479,8)], [(1536,128),(1560,125)], [(1530,131),(1560,131)],
    [(1525,196),(1458,220)], [(1514,154),(1525,177),(1525,196)], [(1536,75),(1560,65)],
    [(818,33),(692,169)], [(808,8),(818,33),(869,52),(900,8)], [(869,52),(889,107),(925,194),(985,201)],
    [(889,107),(923,193),(907,226)], [(936,8),(875,65)], [(1014,25),(1042,51)], [(985,201),(1044,166)],
    [(985,201),(987,212)], [(1014,25),(1022,8)], [(925,194),(929,221)], [(918,207),(925,208)],
    [(969,8),(1014,25)],
    [(830,241),(822,333)], [(1063,230),(1069,279),(1078,298)], [(1062,299),(1050,335)], [(1063,298),(1079,298)],
    [(844,240),(857,334)], [(749,320),(763,333)],
    [(507,1337),(521,1225),(551,1312)],
]

# boundaries of the top hierarchy level
thick_lines = [
    [(600,8),(690,170),(738,252),(750,333),(545,820),(516,827),(310,877)],
    [(8,731),(310,877),(310,886),(404,995),(548,992)],
    [(310,886),(8,1047)],
    [(545,820),(595,893),(552,985),(543,1033),(525,1180),(507,1338),(447,1340),(383,1290)],
    [(595,893),(1175,695),(1299,752),(1560,1030)],
    [(1175,695),(1176,484),(1436,438),(1545,566),(1306,747)],
    [(750,333),(1078,338),(1176,484)],
    [(738,252),(1046,205),(1083,258),(1078,338)],
    [(1046,205),(1043,8)],
    [(1083,258),(1254,185),(1352,145),(1458,220),(1494,334),(1436,438)],
    [(1352,145),(1349,8)],
    [(404,995),(383,1290),(84,1284),(8,1201)],
    [(84,1284),(8,1403)],
    [(383,1290),(410,1309),(409,1560)],
    [(410,1309),(447,1340),(439,1560)],
    [(507,1338),(573,1510),(605,1560)],
    [(551,1312),(730,1516),(768,1560)],
    [(507,1337),(551,1312)],
    [(573,1510),(443,1551)],
    [(1429,894),(1175,1385),(1085,1560)],
    [(1458,220),(1560,185)],
]

label_texts = [
    'protein\nsynthesis', 'not\nassigned', 'calvin\ncycle', 'photophosphorylation', 'channels', 'ox.PPP', 'histone',
    'cell wall', 'cytoskeleton', 'tetrapyrrole', 'amino\nacid\nsynthesis', 'hydrogen\nperoxide\nremoval',
    'chloroplast\nredox\nhomeostasis', 'protein\nmodification', 'protein degradation', 'lipid\nsynthesis',
    'lipid\ndegradation', 'misc', 'glucosinolates', 'terpenoids', 'amino acid\ntransporter', 'carrier-mediated\ntransport',
    'porins', 'biotic stress', 'abiotic\nstress', 'primary\nactive\ntransport', 'glycolysis', 'OXPHOS',
    'carbonic\nanhydrases', 'other organic\nacid\ntransformations', 'TCA\ncycle', 'photorespiration',
    'regulation\nof\nmembrane\ntethering\nand fusion', 'clathrin\ncoated\nvesicle\n(CCV)\nmachinery',
    'coat protein I (COPI)\ncoatomer machinery', 'endomembrane\ntrafficking', 'coat\nprotein II\n(COPII)\ncoatomer\nmachinery',
    'SNARE\ntarget\nmembrane\nrecognition\nand fusion\ncomplexes', 'ER\nvesicle\ntransport', 'target\nmembrane\ntethering',
    'sulfur\nassimilation', 'copper\nuptake', 'iron\nuptake', 'nitrogen\nassimilation', 'CAM/C4\nphotosynthesis',
    'calcium\ntransporter', 'sugar\ntransporter', 'not\nassigned', '14-3-3\nproteins', 'calcium\nsignalling', 'G-\nproteins',
    'SnRK1\nmetabolic\nregulator\nsystem', 'TOR\nsignalling\npathway', 'cupin\nsuperfamily', 'protein\nhandling',
    'protein\ntranslocation', 'enzymatic reactive\noxygen species\nscavengers', 'thioredoxin', 'not\nassigned',
    'glutathione\nmetabolism', 'ascorbate\nbiosynthesis', 'not\nassigned', 'carbohydrate\ndegradation',
    'minor CHO\nmetabolism', 'nucleotide sugar\nbiosynthesis', 'carbohydrate\nhandling', 'carbohydrate\nsynthesis',
    'C1-\nmetabolism', 'gluconeogenesis/\nglyoxylate cycle', 'amino acid\nsynthesis &\ndegradation', 'amino acid\ndegradation',
    'iron-\nsulphur\nclusters', 'FMN/\nFAD', 'tetrahydrofolate', 'S-adenosyl\nmethionine\n(SAM)\ncycle', 'phylloquinone',
    'thiamine', 'auxin', 'jasmonate', 'ethylene', 'cytokinin', 'brassinosteroid', 'signalling\npeptides', 'abscisic\nacid',
    'not\nassigned', 'deoxynucleotide\nmetabolism', 'nucleotide\nsynthesis', 'nucleotide\nsalvage',
    'nucleotide\nphosphotransfer', 'nucleotide\ndegradation', 'not\nassigned', 'cell\ndivision', 'cell\norganisation',
    'LEA\nproteins', 'cell\ncycle', 'cell\ndeath', 'RNA\nprocessing', 'RNA\nRNA\nbinding', 'RNA\nbiosynthesis',
    'RNA\nregulation\nof\ntranscription', 'not\nassigned', 'DNA\nmethylation', 'DNA\nrepair', 'DNA\nsynthesis/\nchromatin\nstructure',
    'lipid\nhandling', 'lipid\ntransport', 'polyamine\nsynthesis', 'lignin\nbiosynthesis', 'flavonoids',
    'nitrogen-\ncontaining\nsecondary\ncompounds', 'betaines',
]
label_x = [
    422, 918, 1403, 928, 224, 1165, 955,
    1352, 1331, 1453, 1282, 968,
    812, 100, 285, 112,
    65, 262, 500, 385, 302, 201,
    365, 495, 458, 43, 159, 315,
    102, 34, 427, 620,
    470, 518,
    520, 488, 458,
    459, 455, 463,
    466, 502, 540, 574, 527,
    365, 379, 375, 44, 22, 22,
    16, 14, 52, 114,
    47, 708, 853, 1026,
    955, 1025, 785, 1090,
    1170, 1308, 1156, 1283,
    1060, 1082, 1124, 1433,
    1375, 1361, 1530, 1402, 1540,
    1487, 1533, 1507, 1511, 1546, 1546, 1553, 1556,
    1524, 1483, 1539, 1524,
    1540, 1542, 1218, 1278, 1199,
    1457, 1496, 1483, 1473, 1442, 1520,
    1540, 1313, 838, 1074, 1069,
    235, 22, 359, 410, 336,
    424, 536,
]
label_y = [
    322, 600, 1365, 1068, 1160, 163, 277,
    515, 625, 90, 311, 95,
    176, 578, 793, 918,
    813, 885, 906, 922, 955, 982,
    1010, 1008, 1165, 1100, 1351, 1458,
    1518, 1420, 1444, 1471,
    1413, 1425,
    1493, 1358, 1356,
    1488, 1511, 1531,
    1555, 1544, 1552, 1544, 1303,
    1280, 1072, 1249, 1274, 1309, 1347,
    1229, 1373, 51, 82,
    206, 50, 19, 196,
    209, 26, 289, 76,
    25, 24, 60, 94,
    171, 218, 300, 355,
    20, 73, 29, 155, 159,
    188, 207, 252, 310, 328, 303, 262, 219,
    352, 421, 413, 480,
    517, 551, 514, 470, 634,
    488, 560, 596, 727, 853, 904,
    970, 750, 308, 257, 312,
    851, 1017, 878, 866, 898,
    985, 982,
]
label_sizes = [
    95, 88, 87.5, 58.7, 55, 33, 44,
    32.5, 27.7, 22.5, 32, 24.8,
    22.4, 25.9, 20.2, 27,
    17, 18, 18, 11, 15, 9,
    18.5, 12.5, 30, 12.5, 36.5, 37.7,
    29, 5.9, 10.5, 11.7,
    7.3, 5.6,
    7, 4.5, 3.5,
    4, 3, 5,
    4.7, 5, 9.7, 4.2, 3.7,
    5, 5, 3.7, 8, 5.8, 7,
    3.5, 2.7, 12.8, 6.5,
    10, 12.5, 9.5, 6.1,
    6, 2.7, 14.7, 12,
    12.4, 8.8, 5, 16.5,
    4.7, 4.2, 12.4, 11.5,
    6, 7.3, 6.4, 4.5, 5.7,
    13, 9.5, 11, 8, 7.3, 3.4, 3, 2.5,
    9.7, 6, 6.7, 10.8,
    4.9, 3.7, 16, 3.9, 6.4,
    6.1, 16.5, 6.1, 27.5, 11.5, 9.5,
    5.5, 2.9, 3.5, 2.6, 2.4,
    4.7, 5, 6, 4, 4.2,
    4.4, 3.5,
]


def draw_cells(ax, cells, colors, width=1.4):
    for pts, col in zip(cells, colors):
        ax.fill([p[0] for p in pts], [p[1] for p in pts], facecolor=col,
                edgecolor='black' if width else col, linewidth=width or 0.5, joinstyle='round', zorder=2)


def draw_lines(ax, lines, width, z):
    for pts in lines:
        ax.plot([p[0] for p in pts], [p[1] for p in pts], color='black', linewidth=width,
                solid_joinstyle='round', solid_capstyle='round', zorder=z)


def main():
    fig = plt.figure(figsize=(25.12, 25.12), dpi=100, facecolor='black')
    ax = fig.add_axes([0, 0, 1, 1])
    ax.set_xlim(0, SIZE)
    ax.set_ylim(SIZE, 0)
    ax.set_facecolor('black')
    ax.axis('off')

    draw_cells(ax, base_cells, base_colors, width=0)

    draw_cells(ax, protein_cells, protein_colors)
    draw_cells(ax, lipid_cells, lipid_colors)
    draw_cells(ax, secondary_cells, secondary_colors)
    draw_cells(ax, transport_cells, transport_colors)
    draw_cells(ax, energy_cells, energy_colors)
    draw_cells(ax, vesicle_cells, vesicle_colors)
    draw_cells(ax, photo_cells, photo_colors)
    draw_cells(ax, rna_cells, rna_colors)
    draw_cells(ax, cell_cells, cell_colors)
    draw_cells(ax, nucleotide_cells, nucleotide_colors)
    draw_cells(ax, amino_cells, amino_colors)
    draw_cells(ax, cho_cells, cho_colors)
    draw_cells(ax, redox_cells, redox_colors)
    draw_cells(ax, histone_cells, histone_colors)
    draw_cells(ax, cofactor_cells, cofactor_colors)
    draw_cells(ax, hormone_cells, hormone_colors)

    draw_lines(ax, thin_lines, 1.4, 3)
    draw_lines(ax, medium_lines, 2.8, 4)
    draw_lines(ax, thick_lines, 4.8, 5)

    # black frame around the map
    for x0, y0, w, h in [(0, 0, SIZE, 8), (0, 1561, SIZE, 7), (0, 0, 8, SIZE), (1561, 0, 7, SIZE)]:
        ax.fill([x0, x0 + w, x0 + w, x0], [y0, y0, y0 + h, y0 + h], color='black', linewidth=0, zorder=6)

    for txt, x, y, size in zip(label_texts, label_x, label_y, label_sizes):
        off = max(0.3, size * 0.012)
        ax.text(x, y + 1 + size * 0.03, txt, ha='center', va='center', multialignment='center', color='white',
                fontsize=size, fontweight='bold', family='DejaVu Sans', linespacing=1.05, zorder=7,
                path_effects=[pe.withSimplePatchShadow(offset=(off, -off), shadow_rgbFace='black', alpha=0.5)])

    fig.savefig('out.png', dpi=100, facecolor='black')


if __name__ == '__main__':
    main()
